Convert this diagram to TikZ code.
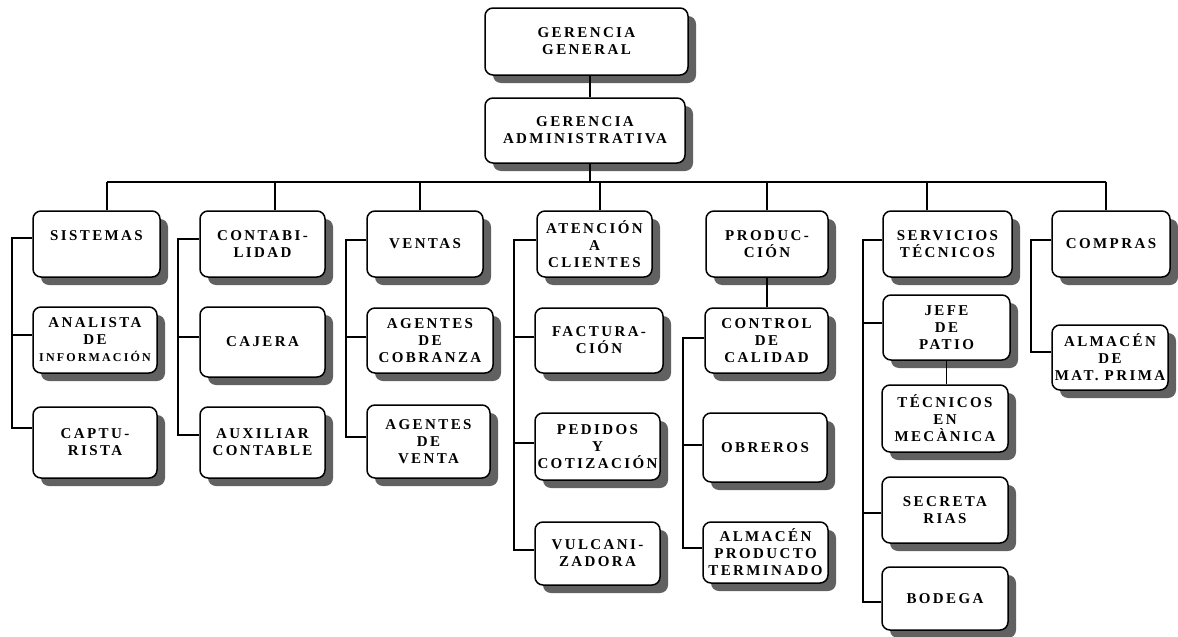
\documentclass[tikz,border=0pt]{standalone}
\usepackage{fontspec}
\setmainfont{Liberation Serif}
\newfontfamily\boxfont[LetterSpace=16]{Liberation Serif}
\newfontfamily\smallboxfont[LetterSpace=18]{Liberation Serif}
\usetikzlibrary{shadows}
\begin{document}
\begin{tikzpicture}[x=1pt,y=-1pt,
  orgbox/.style={draw, line width=1.5pt, rounded corners=8pt, fill=white,
    inner sep=0pt, align=center,
    font=\boxfont\bfseries\fontsize{15}{17}\selectfont,
    drop shadow={shadow xshift=8pt, shadow yshift=-8pt, fill=black!62, opacity=1}},
  link/.style={line width=1.4pt}]
\useasboundingbox (0,0) rectangle (1178,637);
\fill[white] (0,0) rectangle (1178,637);
\newcommand\ob[6]{\node[orgbox, minimum width=#4, minimum height=#5] (#1) at (#2,#3) {#6};}
% top
\ob{gg}{586.5}{41.5}{203}{67}{GERENCIA\\GENERAL}
\ob{ga}{585}{130.5}{200}{65}{GERENCIA\\ADMINISTRATIVA}
% row 1
\ob{sis}{96.5}{244}{127}{66}{SISTEMAS\\\mbox{}}
\ob{con}{262.5}{244}{125}{66}{CONTABI-\\LIDAD}
\ob{ven}{425}{244}{116}{66}{VENTAS}
\ob{ate}{594.5}{244}{115}{66}{ATENCIÓN\\A\\CLIENTES}
\ob{pro}{767}{244}{122}{66}{PRODUC-\\CIÓN}
\ob{ser}{947.5}{244}{129}{66}{SERVICIOS\\TÉCNICOS}
\ob{com}{1111}{244}{118}{66}{COMPRAS}
% row 2
\ob{ana}{95}{340}{124}{66}{ANALISTA\\DE\\{\smallboxfont\bfseries\fontsize{12}{17}\selectfont INFORMACIÓN}}
\ob{caj}{262.5}{342}{125}{70}{CAJERA}
\ob{cob}{430}{340.5}{126}{65}{AGENTES\\DE\\COBRANZA}
\ob{fac}{599}{340.5}{128}{65}{FACTURA-\\CIÓN}
\ob{cal}{766.5}{340.5}{123}{65}{CONTROL\\DE\\CALIDAD}
\ob{jef}{946.5}{327.5}{127}{65}{JEFE\\DE\\PATIO}
\ob{amp}{1110}{357.5}{116}{65}{ALMACÉN\\DE\\MAT. PRIMA}
% row 3
\ob{cap}{95}{442.5}{124}{71}{CAPTU-\\RISTA}
\ob{aux}{262.5}{442.5}{125}{71}{AUXILIAR\\CONTABLE}
\ob{avt}{428.5}{441.5}{123}{73}{AGENTES\\DE\\VENTA}
\ob{ped}{597.5}{446.5}{125}{67}{PEDIDOS\\Y\\COTIZACIÓN}
\ob{obr}{765}{447.5}{124}{69}{OBREROS}
\ob{tec}{945}{418.5}{126}{67}{TÉCNICOS\\EN\\MECÀNICA}
\ob{sec}{945}{510}{126}{66}{SECRETA\\RIAS}
\ob{bod}{945}{598.5}{126}{63}{BODEGA}
\ob{vul}{597.5}{553.5}{125}{63}{VULCANI-\\ZADORA}
\ob{apt}{765.5}{552.5}{125}{61}{ALMACÉN\\PRODUCTO\\TERMINADO}
% connectors
\coordinate (busL) at (107,182);
\coordinate (busR) at (1106,182);
\coordinate (busM) at (590,182);
\draw[link] (gg.south -| busM) -- (ga.north -| busM);
\draw[link] (ga.south -| busM) -- (busM);
\draw[link] (busL) -- (busR);
\draw[link] (sis.north -| busL) -- (busL);
\draw[link] (con.north -| 275,0) -- (275,182);
\draw[link] (ven.north -| 420,0) -- (420,182);
\draw[link] (ate.north -| 600,0) -- (600,182);
\draw[link] (pro.north) -- (pro.north |- busL);
\draw[link] (ser.north -| 927,0) -- (927,182);
\draw[link] (com.north -| busR) -- (busR);
\draw[link] (pro.south) -- (pro.south |- cal.north);
\draw[link] (jef.south) -- (jef.south |- tec.north);
% sistemas
\draw[link] (sis.west |- 0,238) -| (12,428) -- (cap.west |- 0,428);
\draw[link] (ana.west |- 0,335) -- (12,335);
% contabilidad
\draw[link] (con.west |- 0,239) -| (178,435) -- (aux.west |- 0,435);
\draw[link] (caj.west |- 0,337) -- (178,337);
% ventas
\draw[link] (ven.west |- 0,240) -| (346,437) -- (avt.west |- 0,437);
\draw[link] (cob.west |- 0,337) -- (346,337);
% atencion
\draw[link] (ate.west |- 0,240) -| (514,550) -- (vul.west |- 0,550);
\draw[link] (fac.west |- 0,337) -- (514,337);
\draw[link] (ped.west |- 0,443) -- (514,443);
% control de calidad
\draw[link] (cal.west |- 0,338) -| (683,548) -- (apt.west |- 0,548);
\draw[link] (obr.west |- 0,445) -- (683,445);
% servicios
\draw[link] (ser.west |- 0,240) -| (863,602) -- (bod.west |- 0,602);
\draw[link] (jef.west |- 0,323) -- (863,323);
\draw[link] (sec.west |- 0,513) -- (863,513);
% compras
\draw[link] (com.west |- 0,240) -| (1031,352) -- (amp.west |- 0,352);
\end{tikzpicture}
\end{document}
